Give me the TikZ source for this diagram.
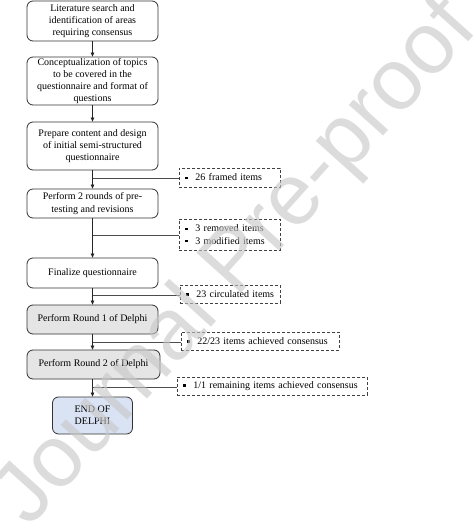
\documentclass[tikz,border=0pt]{standalone}
\usepackage{fontspec}
\setmainfont{Liberation Serif}
\newfontfamily\wmfont{Liberation Sans}
\usetikzlibrary{arrows.meta}
\newcommand{\sqbul}{\makebox[10pt][l]{\raisebox{1.6pt}{\rule{2.4pt}{2.4pt}}}}
\begin{document}
\begin{tikzpicture}[x=1pt,y=-1pt,
  txt/.style={font=\fontsize{10}{12.3}\selectfont},
  mainbox/.style={txt, draw=black!80, line width=0.8pt, rounded corners=6pt,
    minimum width=131pt, inner sep=0pt, align=center, fill=white},
  graybox/.style={mainbox, fill=black!10},
  bluebox/.style={mainbox, fill={rgb,255:red,218;green,227;blue,243}},
  dbox/.style={txt, draw=black!75, line width=0.7pt, dash pattern=on 3pt off 2pt,
    anchor=west, inner xsep=6pt, inner ysep=0pt, align=left},
  arr/.style={-{Triangle[length=4pt,width=3.6pt]}, line width=0.7pt, draw=black!85},
  link/.style={line width=0.7pt, draw=black!70}]
\useasboundingbox (0,0) rectangle (474,524);
\fill[white] (0,0) rectangle (474,524);

% main boxes
\node[mainbox, minimum height=40pt] (b1) at (92.5,21)
  {Literature search and\\identification of areas\\requiring consensus};
\node[mainbox, minimum height=48pt] (b2) at (92.5,81)
  {Conceptualization of topics\\to be covered in the\\questionnaire and format of\\questions};
\node[mainbox, minimum height=48pt] (b3) at (92.5,146)
  {Prepare content and design\\of initial semi-structured\\questionnaire};
\node[mainbox, minimum height=29pt] (b4) at (92.5,203.5)
  {Perform 2 rounds of pre-\\testing and revisions};
\node[mainbox, minimum height=30pt] (b5) at (92.5,273)
  {Finalize questionnaire};
\node[graybox, minimum height=29pt] (b6) at (92.5,319.5)
  {Perform Round 1 of Delphi};
\node[graybox, minimum height=29pt, minimum width=133pt] (b7) at (93.5,364.5)
  {Perform Round 2 of Delphi};
\node[bluebox, minimum height=37pt, minimum width=80pt] (b8) at (92.5,415.5)
  {END OF\\DELPHI};

% dashed side boxes
\node[dbox, minimum height=19pt, text width=89pt] (d1) at (179,177.5)
  {\sqbul 26 framed items};
\node[dbox, minimum height=31pt, text width=89pt] (d2) at (179,234.5)
  {\sqbul 3 removed items\\\sqbul 3 modified items};
\node[dbox, minimum height=18pt, text width=88pt] (d3) at (180,294)
  {\sqbul 23 circulated items};
\node[dbox, minimum height=18pt, text width=146pt] (d4) at (181,341)
  {\sqbul 22/23 items achieved consensus};
\node[dbox, minimum height=18pt, text width=178pt] (d5) at (177,386)
  {\sqbul 1/1 remaining items achieved consensus};

% junctions on the main line
\coordinate (j1) at (92.5,178);
\coordinate (j2) at (92.5,235);
\coordinate (j3) at (92.5,295);
\coordinate (j4) at (92.5,342);
\coordinate (j5) at (92.5,387);

% arrows
\draw[arr] (b1.south) -- (b2.north);
\draw[arr] (b2.south) -- (b3.north);
\draw[arr] (b3.south) -- (b4.north);
\draw[arr] (b4.south) -- (b5.north);
\draw[arr] (b5.south) -- (b6.north);
\draw[arr] (b6.south) -- (b6.south |- b7.north);
\draw[arr] (b7.south -| b8.north) -- (b8.north);

% branches
\draw[link] (j1) -- (j1 -| d1.west);
\draw[link] (j2) -- (j2 -| d2.west);
\draw[link] (j3) -- (j3 -| d3.west);
\draw[link] (j4) -- (j4 -| d4.west);
\draw[link] (j5) -- (j5 -| d5.west);

% watermark
\node[font=\wmfont\fontsize{87}{87}\selectfont, text=black!22, opacity=0.62,
  rotate=48, inner sep=0pt] (wm) at (238,264) {Journal Pre-proof};
\end{tikzpicture}
\end{document}
